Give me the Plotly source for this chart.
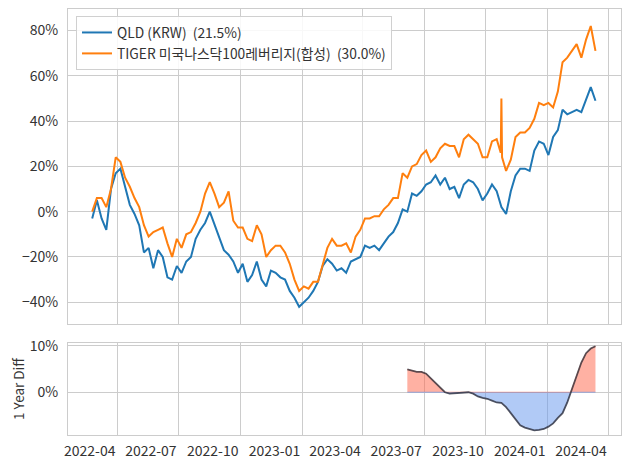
import numpy as np
import pandas as pd
import plotly.graph_objects as go

# ---------------- data ----------------
week_dates = pd.date_range("2022-02-22", periods=108, freq="7D")

qld_pct = [
    -3, 5, -3, -8, 10, 17, 19, 11, 3, -1,
    -6, -18, -16, -25, -17, -20, -29, -30, -24, -27,
    -22, -20, -12, -8, -5, 0, -6, -12, -17, -19,
    -22, -27, -23, -31, -28, -22, -30, -33, -26, -27,
    -29, -30, -35, -38, -42, -40, -38, -35, -31, -24,
    -21, -23, -26, -25, -27, -22, -21, -20, -15, -16,
    -15, -17, -14, -11, -9, -5, 1, 0, 8, 7,
    9, 12, 13, 16, 12, 15, 10, 11, 6, 12,
    14, 13, 10, 5, 8, 12, 9, 2, -1, 9,
    16, 19, 19, 18, 27, 31, 30, 25, 33, 36,
    45, 43, 44, 45, 44, 50, 55, 49,
]

tiger_pct = [
    0, 6, 6, 2, 10, 24, 22, 15, 11, 6,
    2, -6, -11, -9, -8, -7, -14, -20, -12, -16,
    -10, -9, -5, 0, 8, 13, 8, 2, 4, 9,
    -4, -7, -7, -12, -13, -6, -10, -20, -17, -15,
    -15, -18, -23, -30, -35, -33, -34, -31, -31, -24,
    -16, -12, -15, -15, -14, -18, -11, -8, -3, -3,
    -2, -2, 1, 3, 6, 6, 17, 15, 20, 21,
    25, 27, 22, 24, 28, 30, 29, 29, 24, 32,
    34, 32, 30, 24, 24, 31, 32, 50, 18, 23,
    33, 35, 35, 37, 41, 48, 47, 48, 46, 53,
    66, 68, 71, 74, 68, 76, 82, 71,
]
tiger_extra_dates = ["2023-10-23", "2023-10-25"]
tiger_extra_pct = [26, 24]

diff_start_index = 67
diff_pct = [
    4.9, 4.7, 4.4, 4.4, 4.0, 3.0, 2.0, 0.8, 0.0, -0.3,
    -0.2, -0.1, 0.0, 0.0, -0.3, -0.9, -1.2, -1.4, -1.8, -2.2,
    -2.3, -3.2, -4.5, -5.8, -7.1, -7.6, -7.9, -8.2, -8.1, -7.9,
    -7.4, -6.7, -5.5, -4.5, -2.2, 0.8, 3.4, 6.4, 8.4, 9.4, 9.9,
]

series_names = ["QLD (KRW)  (21.5%)", "TIGER 미국나스닥100레버리지(합성)  (30.0%)"]
x_ticks_start = "2022-01-01"

# ---------------- build ----------------
tiger_s = pd.concat([
    pd.Series(tiger_pct, index=week_dates, dtype=float),
    pd.Series(tiger_extra_pct, index=pd.to_datetime(tiger_extra_dates), dtype=float),
]).sort_index()

diff_dates = week_dates[diff_start_index:diff_start_index + len(diff_pct)]
t = diff_dates.asi8
fx, fy = [], []
for k in range(len(diff_pct)):
    if k > 0 and diff_pct[k - 1] * diff_pct[k] < 0:
        f = diff_pct[k - 1] / (diff_pct[k - 1] - diff_pct[k])
        fx.append(pd.Timestamp(int(t[k - 1] + f * (t[k] - t[k - 1]))))
        fy.append(0.0)
    fx.append(diff_dates[k])
    fy.append(diff_pct[k])
pos = [max(v, 0.0) for v in fy]
neg = [min(v, 0.0) for v in fy]

FONT = "Noto Sans CJK KR"
TXT = "#333333"
GRID = "#cccccc"

fig = go.Figure()
fig.add_trace(go.Scatter(x=week_dates, y=qld_pct, mode="lines", name=series_names[0],
                         line=dict(color="#1f77b4", width=2), xaxis="x", yaxis="y"))
fig.add_trace(go.Scatter(x=tiger_s.index, y=tiger_s.values, mode="lines", name=series_names[1],
                         line=dict(color="#ff7f0e", width=2), xaxis="x", yaxis="y"))

fig.add_trace(go.Scatter(x=fx, y=pos, mode="lines", fill="tozeroy",
                         fillcolor="rgba(255,99,71,0.5)", line=dict(color="rgba(255,99,71,0.6)", width=1),
                         showlegend=False, xaxis="x2", yaxis="y2", hoverinfo="skip"))
fig.add_trace(go.Scatter(x=fx, y=neg, mode="lines", fill="tozeroy",
                         fillcolor="rgba(100,149,237,0.5)", line=dict(color="rgba(100,149,237,0.6)", width=1),
                         showlegend=False, xaxis="x2", yaxis="y2", hoverinfo="skip"))
fig.add_trace(go.Scatter(x=diff_dates, y=diff_pct, mode="lines",
                         line=dict(color="rgba(50,50,60,0.8)", width=1.8),
                         showlegend=False, xaxis="x2", yaxis="y2"))

xrange = ["2022-01-17", "2024-04-19"]
axis_common = dict(showgrid=True, gridcolor=GRID, gridwidth=1, showline=True, mirror=True,
                   linecolor=GRID, linewidth=1, zeroline=False, ticks="", automargin=False,
                   tickfont=dict(family=FONT, size=14, color=TXT))

# the page body keeps an 8px margin, so the figure is 8px smaller than the window
fig.update_layout(
    width=622, height=461,
    margin=dict(l=60, r=9, t=1, b=34),
    paper_bgcolor="white", plot_bgcolor="white",
    font=dict(family=FONT, size=13, color=TXT),
    xaxis=dict(domain=[0, 1], anchor="y", range=xrange, type="date",
               dtick="M3", tick0=x_ticks_start, showticklabels=False, **axis_common),
    yaxis=dict(domain=[0.2606, 1], anchor="x", range=[-49.6, 89.5],
               tickmode="linear", tick0=0, dtick=20, ticksuffix="%",
               ticklabelstandoff=6, **axis_common),
    xaxis2=dict(domain=[0, 1], anchor="y2", range=xrange, type="date", matches="x",
                dtick="M3", tick0=x_ticks_start, tickformat="%Y-%m",
                ticklabelstandoff=3, ticklabelshift=-28, ticklabeloverflow="allow",
                **axis_common),
    yaxis2=dict(domain=[0, 0.216], anchor="x2", range=[-9.2, 10.6],
                tickmode="linear", tick0=0, dtick=10, ticksuffix="%",
                ticklabelstandoff=6,
                title=dict(text="1 Year Diff", font=dict(family=FONT, size=13.5, color=TXT), standoff=9),
                **axis_common),
    legend=dict(x=0.0145, y=0.9836, xanchor="left", yanchor="top",
                bgcolor="rgba(255,255,255,0.85)", bordercolor="#d0d0d0", borderwidth=1,
                font=dict(family=FONT, size=13.8, color=TXT), tracegroupgap=0),
    showlegend=True,
)

fig.write_html("out.html")
